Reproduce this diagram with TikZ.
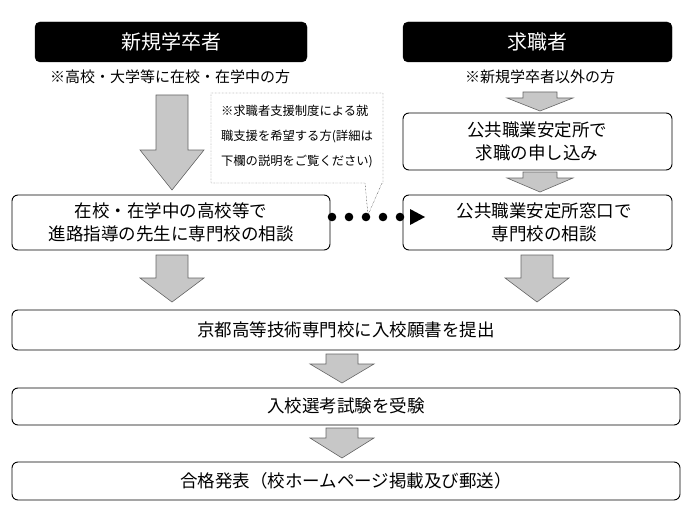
\documentclass[tikz,border=0pt]{standalone}
\usepackage{fontspec}
\setmainfont{Noto Sans CJK JP}
\begin{document}
\begin{tikzpicture}[x=1pt,y=-1pt,
  box/.style={draw=black,line width=0.9pt,rounded corners=6pt,fill=white},
  blk/.style={fill=black,rounded corners=5pt},
  garr/.style={fill=black!22,draw=black!60,line width=0.6pt},
  txt/.style={font=\fontsize{17.5}{23}\selectfont,align=center},
  note/.style={font=\fontsize{15}{18}\selectfont}]
\useasboundingbox (0,0) rectangle (690,516);
\newcommand{\garrow}[6]{\draw[garr] (#1-#4,#2) -- (#1+#4,#2) -- (#1+#4,#6) -- (#1+#5,#6) -- (#1,#3) -- (#1-#5,#6) -- (#1-#4,#6) -- cycle;}
% headers
\draw[blk] (35,22) rectangle (307,62);
\node[txt,white,font=\fontsize{20}{22}\selectfont] (h1) at (171,42) {新規学卒者};
\draw[blk] (403,22) rectangle (672,62);
\node[txt,white,font=\fontsize{20}{22}\selectfont] (h2) at (537,42) {求職者};
\node[note] (n1) at (170,77) {※高校・大学等に在校・在学中の方};
\node[note] (n2) at (540,77) {※新規学卒者以外の方};
% arrows
\garrow{172}{95}{190}{16}{32}{150}
\garrow{540}{92}{111}{17}{33}{98}
\garrow{540}{172}{192}{17}{33}{178}
\garrow{172}{255}{302}{16}{32}{278}
\garrow{537}{255}{302}{16}{32}{278}
\garrow{342}{354}{383}{16}{32}{364}
\garrow{342}{428}{458}{16}{32}{438}
% callout
\draw[densely dotted,fill=white] (211,93) -- (383,93) -- (383,183) -- (382,183) -- (368,215) -- (365,183) -- (211,183) -- cycle;
\node[note,align=left,font=\fontsize{12.3}{25}\selectfont] (co) at (297,137) {※求職者支援制度による就\\職支援を希望する方(詳細は\\下欄の説明をご覧ください)};
% boxes
\draw[box] (403,113) rectangle (672,170);
\node[txt] (b1) at (537,141) {公共職業安定所で\\求職の申し込み};
\draw[box] (12,195) rectangle (330,250);
\node[txt] (b2) at (171,222) {在校・在学中の高校等で\\進路指導の先生に専門校の相談};
\draw[box] (403,195) rectangle (672,250);
\node[txt] (b3) at (544,222) {公共職業安定所窓口で\\専門校の相談};
\foreach \x in {332,349,366,383,400} \fill (\x,217) circle (4.3);
\fill (410,209) -- (425,217) -- (410,225) -- cycle;
\draw[box] (12,310) rectangle (680,350);
\node[txt] (b4) at (346,330) {京都高等技術専門校に入校願書を提出};
\draw[box] (12,388) rectangle (680,425);
\node[txt] (b5) at (346,406) {入校選考試験を受験};
\draw[box] (12,462) rectangle (680,500);
\node[txt] (b6) at (346,481) {合格発表（校ホームページ掲載及び郵送）};
\end{tikzpicture}
\end{document}
